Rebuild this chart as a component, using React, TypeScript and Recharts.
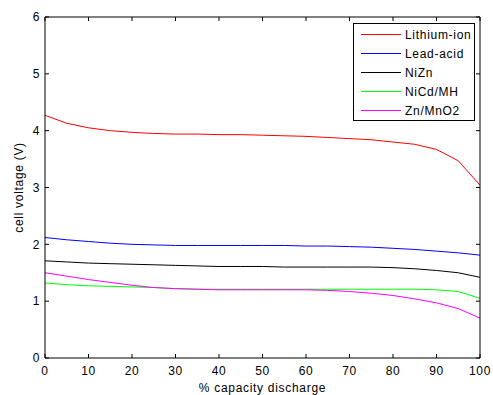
import React from 'react';
import { LineChart, Line, XAxis, YAxis } from 'recharts';

const discharge = [0, 5, 10, 15, 20, 25, 30, 35, 40, 45, 50, 55, 60, 65, 70, 75, 80, 85, 90, 95, 100];
const lithiumIon = [4.27, 4.13, 4.05, 4.0, 3.97, 3.95, 3.94, 3.94, 3.93, 3.93, 3.92, 3.91, 3.9, 3.88, 3.86, 3.84, 3.8, 3.76, 3.67, 3.47, 3.04];
const leadAcid = [2.12, 2.08, 2.05, 2.02, 2.0, 1.99, 1.98, 1.98, 1.98, 1.98, 1.98, 1.98, 1.97, 1.97, 1.96, 1.95, 1.93, 1.91, 1.88, 1.85, 1.81];
const niZn = [1.71, 1.69, 1.67, 1.66, 1.65, 1.64, 1.63, 1.62, 1.61, 1.61, 1.61, 1.6, 1.6, 1.6, 1.6, 1.6, 1.59, 1.57, 1.54, 1.5, 1.42];
const niCdMh = [1.32, 1.29, 1.27, 1.26, 1.25, 1.24, 1.22, 1.21, 1.21, 1.21, 1.21, 1.21, 1.21, 1.21, 1.21, 1.21, 1.21, 1.21, 1.2, 1.17, 1.05];
const znMnO2 = [1.5, 1.44, 1.38, 1.33, 1.28, 1.24, 1.22, 1.21, 1.2, 1.2, 1.2, 1.2, 1.2, 1.19, 1.17, 1.14, 1.1, 1.04, 0.97, 0.87, 0.7];

const xTicks = [0, 10, 20, 30, 40, 50, 60, 70, 80, 90, 100];
const yTicks = [0, 1, 2, 3, 4, 5, 6];

const series = [
  { key: 'li', name: 'Lithium-ion', color: '#ff0000', values: lithiumIon },
  { key: 'pb', name: 'Lead-acid', color: '#0000ff', values: leadAcid },
  { key: 'nizn', name: 'NiZn', color: '#000000', values: niZn },
  { key: 'nicd', name: 'NiCd/MH', color: '#00ff00', values: niCdMh },
  { key: 'zn', name: 'Zn/MnO2', color: '#ff00ff', values: znMnO2 },
];

const data = discharge.map((x, i) => {
  const row: any = { x };
  series.forEach(s => { row[s.key] = s.values[i]; });
  return row;
});

const font = { fontFamily: 'Liberation Sans, Arial, sans-serif', fontSize: 12, fill: '#000', letterSpacing: 0.7 };
const blank = () => '';

function LegendBox() {
  return (
    <div style={{
      position: 'absolute', left: 353, top: 23, width: 122, height: 98,
      border: '1px solid #000', background: '#fff', boxSizing: 'border-box',
      paddingTop: 1, fontFamily: font.fontFamily, fontSize: 12, letterSpacing: 0.7,
    }}>
      {series.map(s => (
        <div key={s.key} style={{ display: 'flex', alignItems: 'center', height: 19 }}>
          <svg width={40} height={3} style={{ marginLeft: 7, marginRight: 4 }}>
            <line x1={0} y1={1.5} x2={40} y2={1.5} stroke={s.color} strokeWidth={1} />
          </svg>
          <span>{s.name}</span>
        </div>
      ))}
    </div>
  );
}

export default function App() {
  return (
    <div style={{ position: 'absolute', left: 0, top: 0, width: 493, height: 395, background: '#fff' }}>
      <LineChart width={493} height={395} data={data} margin={{ top: 0, right: 0, bottom: 0, left: 0 }}>
        <XAxis dataKey="x" type="number" domain={[0, 100]} ticks={xTicks} height={37}
          tick={font} stroke="#000" tickSize={-4} tickMargin={12}
          label={{ value: '% capacity discharge', position: 'insideBottom', offset: 3, style: font }} />
        <XAxis xAxisId="top" dataKey="x" type="number" domain={[0, 100]} ticks={xTicks} orientation="top"
          height={17} tickFormatter={blank} axisLine={{ stroke: '#000' }} tickLine={{ stroke: '#000' }} tickSize={-4} />
        <YAxis type="number" domain={[0, 6]} ticks={yTicks} width={45}
          tick={font} stroke="#000" tickSize={-4} tickMargin={9}
          label={{ value: 'cell voltage (V)', angle: -90, position: 'insideLeft', offset: 19, style: { ...font, textAnchor: 'middle' } }} />
        <YAxis yAxisId="right" type="number" domain={[0, 6]} ticks={yTicks} orientation="right"
          width={13} tickFormatter={blank} axisLine={{ stroke: '#000' }} tickLine={{ stroke: '#000' }} tickSize={-4} />
        {series.map((s, i) => (
          <Line key={s.key} dataKey={s.key} name={s.name} stroke={s.color} strokeWidth={1}
            xAxisId={i === 0 ? 'top' : 0} yAxisId={i === 0 ? 'right' : 0}
            dot={false} activeDot={false} isAnimationActive={false} type="linear" />
        ))}
      </LineChart>
      <LegendBox />
    </div>
  );
}
